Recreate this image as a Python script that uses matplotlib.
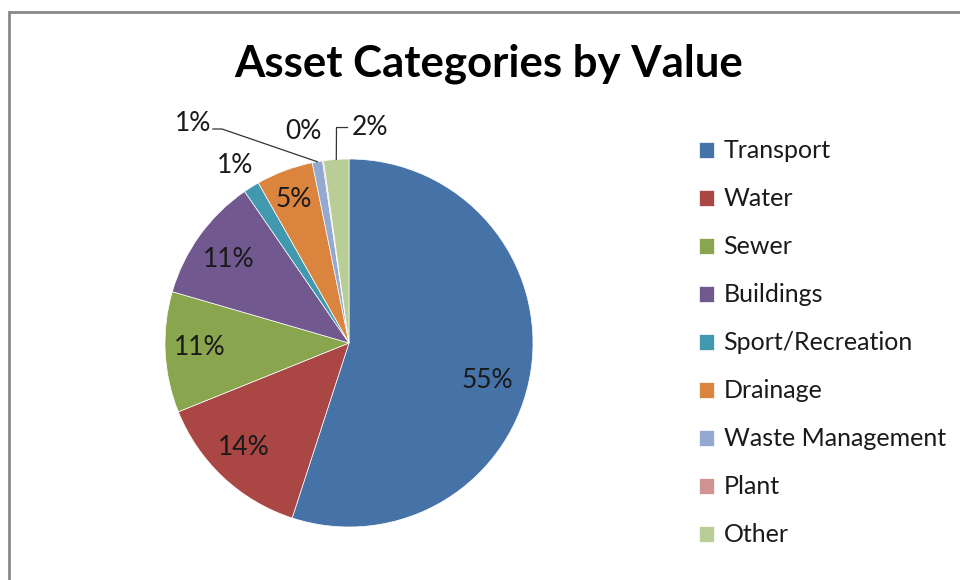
import matplotlib.pyplot as plt
from matplotlib.patches import Rectangle
import numpy as np

categories = ["Transport", "Water", "Sewer", "Buildings", "Sport/Recreation",
              "Drainage", "Waste Management", "Plant", "Other"]
values = [55.0, 13.9, 10.6, 10.9, 1.4, 5.0, 0.9, 0.1, 2.2]

colors = ["#4572a7", "#aa4643", "#89a54e", "#71588f", "#4198af",
          "#db843d", "#93a9cf", "#d19392", "#b9cd96"]

# label positions relative to pie centre (in units of radius)
label_pos = [(0.754, -0.203), (-0.572, -0.567), (-0.813, -0.027),
             (-0.652, 0.455), (-0.620, 0.963), (-0.299, 0.781),
             (-0.850, 1.193), (-0.246, 1.150), (0.112, 1.171)]

W, H = 960, 580
fig = plt.figure(figsize=(W / 100, H / 100), dpi=100)
plt.rcParams['font.family'] = ['Lato', 'DejaVu Sans']

# outer frame
fig.patches.append(Rectangle((9 / W, -0.1), 1.2, 1.1 - 12 / H,
                             transform=fig.transFigure, fill=False,
                             edgecolor="#888888", linewidth=2))

cx, cy, r = 349, 343, 187
half = 230
ax = fig.add_axes([(cx - half) / W, (H - cy - half) / H, 2 * half / W, 2 * half / H])
lim = half / r
ax.set_xlim(-lim, lim)
ax.set_ylim(-lim, lim)
ax.set_aspect("equal")
ax.axis("off")

wedges, _ = ax.pie(values, colors=colors, startangle=90, counterclock=False,
                   radius=1, wedgeprops=dict(linewidth=0.5, edgecolor="white"))

for i, v in enumerate(values):
    x, y = label_pos[i]
    ax.text(x, y, f"{round(v):.0f}%", ha="center", va="center",
            fontsize=19, color="#1a1a1a")

# leader lines for Waste Management and Other
for i in (6, 8):
    w = wedges[i]
    mid = np.deg2rad((w.theta1 + w.theta2) / 2)
    ex, ey = np.cos(mid), np.sin(mid)
    lx, ly = label_pos[i]
    if i == 6:
        sx = lx + 0.11
        ax.plot([sx, sx + 0.05, ex], [ly - 0.03, ly - 0.03, ey], color="#333333", lw=0.9)
    else:
        sx = lx - 0.12
        ax.plot([sx, sx - 0.06, ex], [ly, ly, ey], color="#333333", lw=0.9)

fig.text(489 / W, 1 - 64 / H, "Asset Categories by Value", ha="center", va="center",
         fontsize=31.5, fontweight="bold", color="black")

leg = fig.legend(wedges, categories, loc="upper left",
                 bbox_to_anchor=(676 / W, 1 - 117 / H), frameon=False,
                 fontsize=18, handlelength=0.6, handleheight=0.6,
                 handletextpad=0.4, labelspacing=1.0)
for t in leg.get_texts():
    t.set_color("#1a1a1a")

fig.savefig("out.png", dpi=100)
